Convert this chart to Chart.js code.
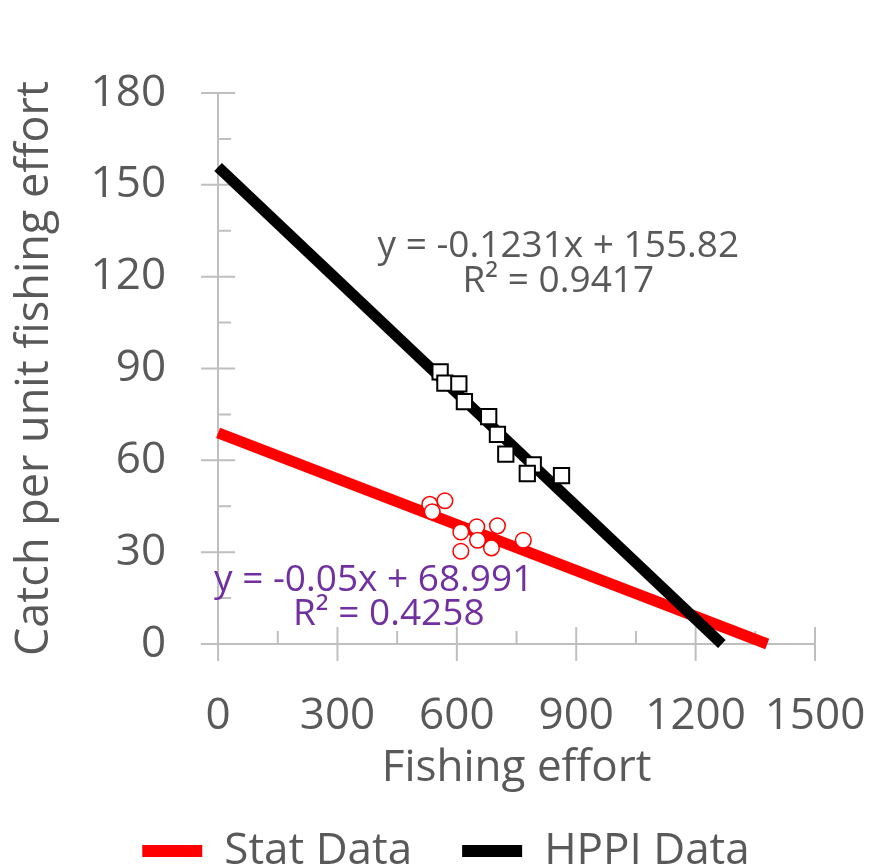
<!DOCTYPE html>
<html>
<head>
<meta charset="utf-8">
<script src="https://cdn.jsdelivr.net/npm/chart.js@4/dist/chart.umd.min.js"></script>
<style>
  html, body { margin: 0; padding: 0; background: #fff; overflow: hidden; }
  #wrap { width: 871px; height: 883px; position: relative; }
</style>
</head>
<body>
<div id="wrap"><canvas id="chart"></canvas></div>
<script>
// Stat Data (red circles)
const statEffort = [532, 570, 538, 610, 650, 702, 652, 610, 687, 767];
const statCpue = [45.6, 46.8, 43.2, 36.6, 38.3, 38.6, 33.9, 30.3, 31.4, 33.9];
// HPPI Data (black squares)
const hppiEffort = [558, 570, 605, 619, 680, 702, 723, 792, 777, 863];
const hppiCpue = [88.9, 85.2, 85.0, 79.2, 74.3, 68.5, 62.0, 58.5, 55.7, 55.0];
// linear trend lines, end points
const statTrendX = [0, 1380];
const statTrendY = [68.99, 0];
const hppiTrendX = [0, 1266];
const hppiTrendY = [155.82, 0];

const seriesNames = ['Stat Data', 'HPPI Data'];
const statEquation = ['y = -0.05x + 68.991', 'R² = 0.4258'];
const hppiEquation = ['y = -0.1231x + 155.82', 'R² = 0.9417'];

const FONT = "'Open Sans', 'DejaVu Sans', sans-serif";
const TEXT = '#595959';
const AXIS = '#bfbfbf';

const pts = (xs, ys) => xs.map((x, i) => ({ x: x, y: ys[i] }));

// axis ticks that cross the axis line, with short minor ticks inside
const axisTicks = {
  id: 'axisTicks',
  beforeDatasetsDraw(chart) {
    const { ctx, scales: { x, y } } = chart;
    const x0 = x.getPixelForValue(0);
    const y0 = y.getPixelForValue(0);
    ctx.save();
    ctx.strokeStyle = AXIS;
    ctx.lineWidth = 2;
    ctx.beginPath();
    y.ticks.forEach((t, i) => {
      const py = y.getPixelForValue(t.value);
      ctx.moveTo(x0 - 17, py); ctx.lineTo(x0 + 17, py);
      if (i < y.ticks.length - 1) {
        const pm = y.getPixelForValue((t.value + y.ticks[i + 1].value) / 2);
        ctx.moveTo(x0, pm); ctx.lineTo(x0 + 13, pm);
      }
    });
    x.ticks.forEach((t, i) => {
      const px = x.getPixelForValue(t.value);
      ctx.moveTo(px, y0 - 17); ctx.lineTo(px, y0 + 17);
      if (i < x.ticks.length - 1) {
        const pm = x.getPixelForValue((t.value + x.ticks[i + 1].value) / 2);
        ctx.moveTo(pm, y0); ctx.lineTo(pm, y0 - 13);
      }
    });
    ctx.stroke();
    ctx.restore();
  }
};

// trend line equations
const equations = {
  id: 'equations',
  afterDatasetsDraw(chart) {
    const { ctx, scales: { x, y } } = chart;
    ctx.save();
    ctx.font = "37px " + FONT;
    ctx.textAlign = 'center';
    ctx.textBaseline = 'middle';
    ctx.fillStyle = TEXT;
    ctx.fillText(hppiEquation[0], x.getPixelForValue(855), y.getPixelForValue(130));
    ctx.fillText(hppiEquation[1], x.getPixelForValue(855), y.getPixelForValue(118.5));
    ctx.fillStyle = '#7030a0';
    ctx.fillText(statEquation[0], x.getPixelForValue(391), y.getPixelForValue(20.7));
    ctx.fillText(statEquation[1], x.getPixelForValue(429), y.getPixelForValue(9.8));
    ctx.restore();
  }
};

new Chart(document.getElementById('chart'), {
  type: 'scatter',
  data: {
    datasets: [
      {
        label: seriesNames[0] + ' points',
        data: pts(statEffort, statCpue),
        pointStyle: 'circle',
        pointRadius: 7.8,
        pointBackgroundColor: '#ffffff',
        pointBorderColor: '#ff0000',
        pointBorderWidth: 1.5,
        order: 0
      },
      {
        label: seriesNames[1] + ' points',
        data: pts(hppiEffort, hppiCpue),
        pointStyle: 'rect',
        pointRadius: 10.8,
        pointBackgroundColor: '#ffffff',
        pointBorderColor: '#000000',
        pointBorderWidth: 2,
        order: 0
      },
      {
        type: 'line',
        label: seriesNames[0],
        data: pts(statTrendX, statTrendY),
        borderColor: '#ff0000',
        backgroundColor: '#ff0000',
        borderWidth: 11,
        pointRadius: 0,
        clip: false,
        order: 2
      },
      {
        type: 'line',
        label: seriesNames[1],
        data: pts(hppiTrendX, hppiTrendY),
        borderColor: '#000000',
        backgroundColor: '#000000',
        borderWidth: 11,
        pointRadius: 0,
        clip: false,
        order: 1
      }
    ]
  },
  options: {
    responsive: true,
    maintainAspectRatio: false,
    animation: false,
    events: [],
    layout: { padding: { top: 93, right: 56, left: 77, bottom: 0 } },
    plugins: {
      tooltip: { enabled: false },
      legend: {
        position: 'bottom',
        labels: {
          font: { family: FONT, size: 44 },
          color: TEXT,
          boxWidth: 60,
          boxHeight: 12,
          padding: 50,
          useBorderRadius: true,
          borderRadius: 6,
          generateLabels(chart) {
            return [2, 3].map(i => {
              const ds = chart.data.datasets[i];
              return {
                text: ds.label,
                fillStyle: ds.borderColor,
                strokeStyle: ds.borderColor,
                lineWidth: 0,
                fontColor: TEXT,
                datasetIndex: i
              };
            });
          }
        }
      }
    },
    scales: {
      x: {
        type: 'linear',
        min: 0,
        max: 1500,
        grid: { display: false, drawTicks: true, tickLength: 46 },
        border: { display: true, color: AXIS, width: 2 },
        ticks: {
          stepSize: 300,
          padding: 0,
          autoSkip: false,
          maxRotation: 0,
          color: TEXT,
          font: { family: FONT, size: 44 },
          callback: v => String(v)
        },
        title: {
          display: true,
          text: 'Fishing effort',
          color: TEXT,
          padding: { top: -1.2, bottom: -15.4 },
          font: { family: FONT, size: 44 }
        }
      },
      y: {
        type: 'linear',
        min: 0,
        max: 180,
        grid: { display: false, drawTicks: true, tickLength: 52 },
        border: { display: true, color: AXIS, width: 2 },
        ticks: {
          stepSize: 30,
          padding: 0,
          color: TEXT,
          font: { family: FONT, size: 44 },
          callback: v => String(v)
        },
        title: {
          display: true,
          text: 'Catch per unit fishing effort',
          color: TEXT,
          padding: { top: -68.4, bottom: 28 },
          font: { family: FONT, size: 45 }
        }
      }
    }
  },
  plugins: [axisTicks, equations]
});
</script>
</body>
</html>
